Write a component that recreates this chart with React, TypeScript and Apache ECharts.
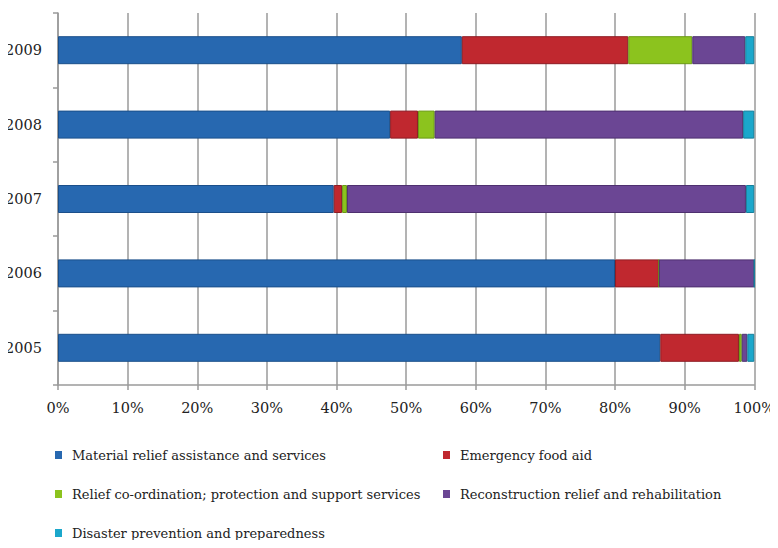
import React, { useEffect, useRef } from "react";
import * as echarts from "echarts";

const years = ["2005", "2006", "2007", "2008", "2009"];
const seriesNames = [
  "Material relief assistance and services",
  "Emergency food aid",
  "Relief co-ordination; protection and support services",
  "Reconstruction relief and rehabilitation",
  "Disaster prevention and preparedness",
];
const material = [86.5, 80.0, 39.6, 47.7, 58.0];
const emergency = [11.3, 6.3, 1.2, 4.0, 23.9];
const reliefCoord = [0.4, 0, 0.7, 2.4, 9.2];
const reconstruction = [0.8, 13.7, 57.3, 44.3, 7.6];
const disaster = [1.0, 0, 1.2, 1.6, 1.3];
const xTicks = [0, 10, 20, 30, 40, 50, 60, 70, 80, 90, 100];

const colors = ["#2768b0", "#c0282f", "#8cc31e", "#6b4694", "#1ba7cb"];
const borders = ["#1b4f8a", "#8e1c24", "#6a9a14", "#4e306f", "#137f9c"];

const FONT = "DejaVu Serif";

export default function App() {
  const ref = useRef<HTMLDivElement>(null);
  useEffect(() => {
    if (!ref.current) return;
    const chart = echarts.init(ref.current, null, { renderer: "svg" });
    const values = [material, emergency, reliefCoord, reconstruction, disaster];
    const series = seriesNames.map((name, i) => ({
      name,
      type: "bar",
      stack: "total",
      barWidth: 28,
      data: values[i],
      itemStyle: { color: colors[i], borderColor: borders[i], borderWidth: 1 },
    }));
    const legendText = {
      fontFamily: FONT,
      fontSize: 13,
      color: "#222",
      lineHeight: 18,
      padding: [0, 0, 0, 5],
    };
    const legendBase = {
      orient: "vertical",
      top: 446,
      height: 100,
      padding: 0,
      itemWidth: 7,
      itemHeight: 8,
      itemGap: 21,
      textStyle: legendText,
      icon: "rect",
      itemStyle: { borderWidth: 0 },
    };
    chart.setOption({
      animation: false,
      textStyle: { fontFamily: FONT },
      grid: { left: 58, right: 21, top: 13, bottom: 163, containLabel: false },
      xAxis: {
        type: "value",
        min: xTicks[0],
        max: xTicks[xTicks.length - 1],
        interval: 10,
        axisLine: { show: true, lineStyle: { color: "#9a9a9a", width: 1.5 } },
        axisTick: { show: true, length: 5, lineStyle: { color: "#9a9a9a", width: 1.5 } },
        splitLine: { show: true, lineStyle: { color: "#9a9a9a", width: 1.5 } },
        axisLabel: {
          formatter: "{value}%",
          fontFamily: FONT,
          fontSize: 14.5,
          color: "#222",
          margin: 15,
        },
      },
      yAxis: {
        type: "category",
        data: years,
        axisLine: { show: true, lineStyle: { color: "#9a9a9a", width: 1.5 } },
        axisTick: { show: true, length: 5, lineStyle: { color: "#9a9a9a", width: 1.5 } },
        axisLabel: { fontFamily: FONT, fontSize: 14.5, color: "#222", margin: 16 },
      },
      legend: [
        { ...legendBase, left: 55, data: [seriesNames[0], seriesNames[2], seriesNames[4]] },
        { ...legendBase, left: 443, data: [seriesNames[1], seriesNames[3]] },
      ],
      series,
    });
    return () => chart.dispose();
  }, []);
  return <div ref={ref} style={{ width: 778, height: 548, margin: -8 }} />;
}
